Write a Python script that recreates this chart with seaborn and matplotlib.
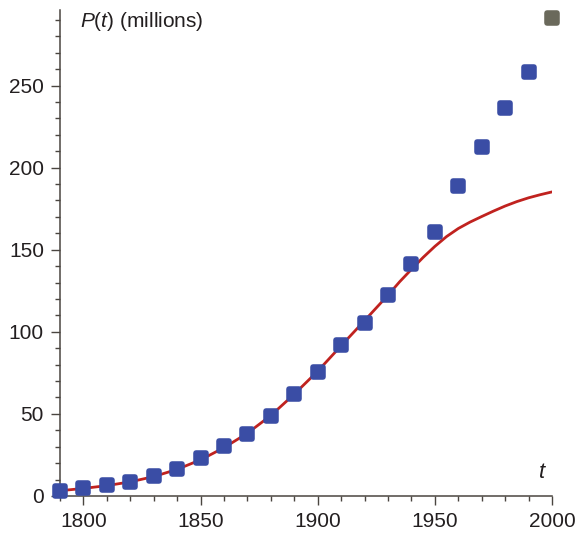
import numpy as np
import pandas as pd
import matplotlib
matplotlib.use("Agg")
import matplotlib.pyplot as plt
from matplotlib.ticker import MultipleLocator
import seaborn as sns

# census points (millions)
years = [1790, 1800, 1810, 1820, 1830, 1840, 1850, 1860, 1870, 1880, 1890,
         1900, 1910, 1920, 1930, 1940, 1950, 1960, 1970, 1980, 1990]
pop = [3.0, 4.8, 6.5, 8.8, 12.0, 16.6, 23.0, 30.2, 38.0, 48.5, 62.3,
       75.5, 91.8, 105.4, 122.3, 141.0, 160.5, 188.7, 212.7, 236.0, 258.2]
year_2000 = [2000]
pop_2000 = [291.0]

# logistic curve
curve_t = [1790, 1800, 1810, 1820, 1830, 1840, 1850, 1860, 1870, 1880, 1890,
           1900, 1910, 1920, 1930, 1935, 1940, 1945, 1950, 1955, 1960,
           1965, 1970, 1975, 1980, 1985, 1990, 1995, 2000]
curve_p = [3.2, 4.6, 6.3, 8.6, 11.8, 16.2, 22.0, 29.4, 38.2, 49.0, 62.0,
           76.0, 91.5, 106.8, 122.3, 130.5, 138.0, 145.3, 152.0, 158.0, 162.9,
           166.8, 170.2, 173.5, 176.6, 179.3, 181.6, 183.5, 185.2]

df = pd.DataFrame({"t": years, "P": pop})
df_curve = pd.DataFrame({"t": curve_t, "P": curve_p})
df_last = pd.DataFrame({"t": year_2000, "P": pop_2000})

sns.set_style("ticks")
plt.rcParams["font.family"] = ["Liberation Sans", "DejaVu Sans"]
plt.rcParams["mathtext.fontset"] = "custom"
plt.rcParams["mathtext.it"] = "Liberation Sans:italic"
plt.rcParams["mathtext.rm"] = "Liberation Sans"

axis_col = "#4a4540"
text_col = "#231f20"
blue = "#3a4da5"
gray = "#6a695b"
red = "#c0221f"

fig = plt.figure(figsize=(5.75, 5.34), dpi=100)
ax = fig.add_axes([0.1042, 0.0712, 0.8558, 0.9101])

sns.lineplot(data=df_curve, x="t", y="P", ax=ax, color=red, linewidth=2.0, zorder=2)
sns.scatterplot(data=df, x="t", y="P", ax=ax, marker="s", s=46, color=blue,
                edgecolor=blue, linewidth=4, zorder=3, clip_on=False)
sns.scatterplot(data=df_last, x="t", y="P", ax=ax, marker="s", s=46, color=gray,
                edgecolor=gray, linewidth=4, zorder=3, clip_on=False)
for coll in ax.collections:
    coll.set_joinstyle("round")

ax.set_xlim(1790, 2000)
ax.set_ylim(0, 296)
ax.set_xlabel("")
ax.set_ylabel("")

ax.xaxis.set_major_locator(MultipleLocator(50))
ax.xaxis.set_minor_locator(MultipleLocator(10))
ax.yaxis.set_major_locator(MultipleLocator(50))
ax.yaxis.set_minor_locator(MultipleLocator(10))
ax.set_xticks([1800, 1850, 1900, 1950, 2000])

for side in ["top", "right"]:
    ax.spines[side].set_visible(False)
for side in ["left", "bottom"]:
    ax.spines[side].set_color(axis_col)
    ax.spines[side].set_linewidth(1.1)

ax.tick_params(which="major", direction="out", length=6.5, width=1.0,
               color=axis_col, labelsize=15, labelcolor=text_col, pad=5)
ax.tick_params(which="minor", direction="out", length=3.6, width=1.0, color=axis_col)

ax.text(1798.5, 289, r"$P$($t$) (millions)", fontsize=15, color=text_col,
        ha="left", va="center")
ax.text(1996, 14, r"$t$", fontsize=16, color=text_col, ha="center", va="center")

fig.savefig("out.png", dpi=100)
